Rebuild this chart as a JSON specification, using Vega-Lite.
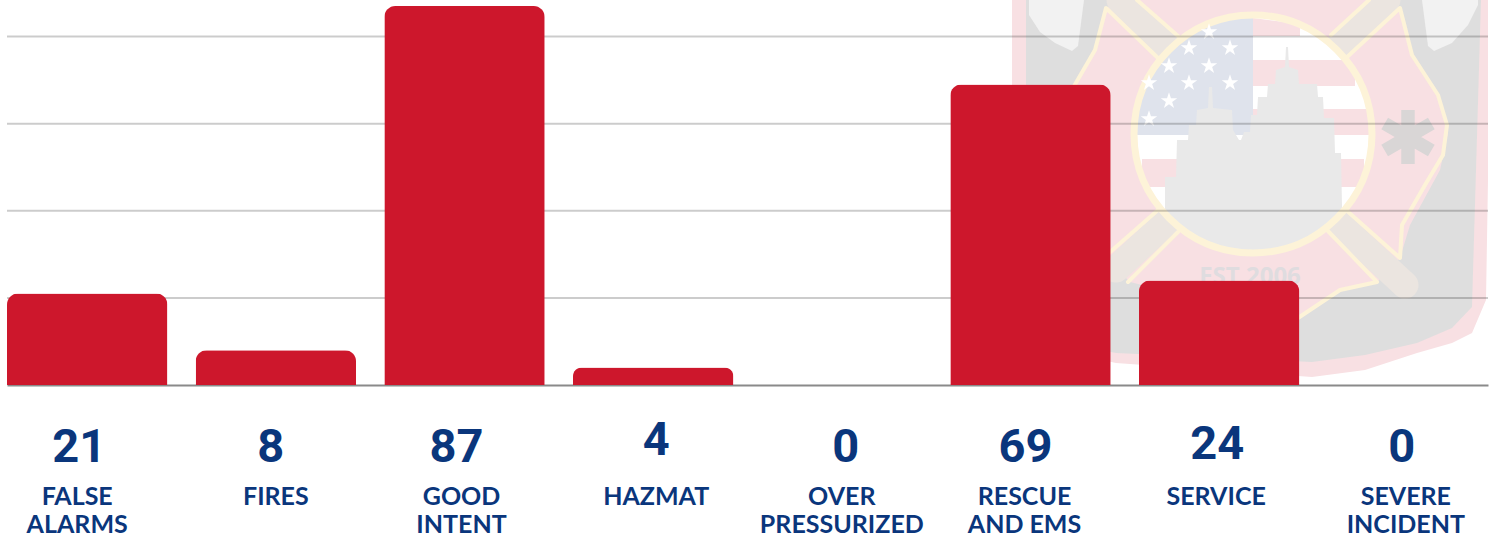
{
"$schema":"https://vega.github.io/schema/vega-lite/v6.json",
"width":1481,"height":385,"autosize":"none","padding":{"left":7,"top":0,"right":7,"bottom":156},"background":"#ffffff",
"config":{"view":{"stroke":null}},
"datasets":{
"incidents":[
{"name":"FALSE ALARMS","count":21},{"name":"FIRES","count":8},{"name":"GOOD INTENT","count":87},{"name":"HAZMAT","count":4},
{"name":"OVER PRESSURIZED","count":0},{"name":"RESCUE AND EMS","count":69},{"name":"SERVICE","count":24},{"name":"SEVERE INCIDENT","count":0}],
"ticks":[{"tick":20},{"tick":40},{"tick":60},{"tick":80}],
"logoBack":[
{"shape":"a","part":"pink","x":1012,"y0":0,"y1":340},{"shape":"a","part":"pink","x":1116,"y0":0,"y1":363},{"shape":"a","part":"pink","x":1312,"y0":0,"y1":377},{"shape":"a","part":"pink","x":1365,"y0":0,"y1":370},{"shape":"a","part":"pink","x":1417,"y0":0,"y1":353},{"shape":"a","part":"pink","x":1452,"y0":0,"y1":343},{"shape":"a","part":"pink","x":1472,"y0":0,"y1":333},{"shape":"a","part":"pink","x":1486,"y0":0,"y1":300},{"shape":"a","part":"pink","x":1491,"y0":0,"y1":0},
{"shape":"b","part":"gray","x":1026,"y0":0,"y1":335},{"shape":"b","part":"gray","x":1116,"y0":0,"y1":353},{"shape":"b","part":"gray","x":1312,"y0":0,"y1":362},{"shape":"b","part":"gray","x":1365,"y0":0,"y1":355},{"shape":"b","part":"gray","x":1417,"y0":0,"y1":343},{"shape":"b","part":"gray","x":1452,"y0":0,"y1":328},{"shape":"b","part":"gray","x":1472,"y0":0,"y1":307},{"shape":"b","part":"gray","x":1481,"y0":0,"y1":0},
{"shape":"c","part":"horn","x":1029,"y0":0,"y1":15},{"shape":"c","part":"horn","x":1040,"y0":0,"y1":32},{"shape":"c","part":"horn","x":1055,"y0":0,"y1":43},{"shape":"c","part":"horn","x":1072,"y0":0,"y1":51},{"shape":"c","part":"horn","x":1078,"y0":0,"y1":46},{"shape":"c","part":"horn","x":1084,"y0":0,"y1":0},
{"shape":"d","part":"horn","x":1422,"y0":0,"y1":0},{"shape":"d","part":"horn","x":1428,"y0":0,"y1":46},{"shape":"d","part":"horn","x":1434,"y0":0,"y1":51},{"shape":"d","part":"horn","x":1452,"y0":0,"y1":43},{"shape":"d","part":"horn","x":1468,"y0":0,"y1":25},{"shape":"d","part":"horn","x":1478,"y0":0,"y1":5},
{"shape":"e","part":"pink","x":1058,"y0":133,"y1":133},{"shape":"e","part":"pink","x":1066,"y0":100,"y1":170},{"shape":"e","part":"pink","x":1095,"y0":50,"y1":215},{"shape":"e","part":"pink","x":1106,"y0":8,"y1":258},{"shape":"e","part":"pink","x":1130,"y0":0,"y1":282},{"shape":"e","part":"pink","x":1170,"y0":0,"y1":292},{"shape":"e","part":"pink","x":1210,"y0":0,"y1":318},{"shape":"e","part":"pink","x":1253,"y0":0,"y1":345},{"shape":"e","part":"pink","x":1298,"y0":0,"y1":318},{"shape":"e","part":"pink","x":1340,"y0":0,"y1":290},{"shape":"e","part":"pink","x":1377,"y0":0,"y1":282},{"shape":"e","part":"pink","x":1400,"y0":8,"y1":258},{"shape":"e","part":"pink","x":1410,"y0":50,"y1":225},{"shape":"e","part":"pink","x":1440,"y0":100,"y1":170},{"shape":"e","part":"pink","x":1448,"y0":133,"y1":133}
],
"logoHandles":[
{"seg":"h1","i":0,"x":1120,"y":0},{"seg":"h1","i":1,"x":1168,"y":47},
{"seg":"h2","i":0,"x":1387,"y":0},{"seg":"h2","i":1,"x":1338,"y":47},
{"seg":"h3","i":0,"x":1116,"y":269},{"seg":"h3","i":1,"x":1168,"y":221},
{"seg":"h4","i":0,"x":1336,"y":221},{"seg":"h4","i":1,"x":1405,"y":285}
],
"logoFront":[
{"shape":"f","part":"white","x":1134,"y0":134,"y1":134},{"shape":"f","part":"white","x":1138,"y0":103,"y1":165},{"shape":"f","part":"white","x":1148,"y0":78,"y1":190},{"shape":"f","part":"white","x":1163,"y0":56,"y1":212},{"shape":"f","part":"white","x":1183,"y0":38,"y1":230},{"shape":"f","part":"white","x":1208,"y0":24,"y1":244},{"shape":"f","part":"white","x":1233,"y0":17,"y1":251},{"shape":"f","part":"white","x":1253,"y0":15,"y1":253},{"shape":"f","part":"white","x":1273,"y0":17,"y1":251},{"shape":"f","part":"white","x":1298,"y0":24,"y1":244},{"shape":"f","part":"white","x":1323,"y0":38,"y1":230},{"shape":"f","part":"white","x":1343,"y0":56,"y1":212},{"shape":"f","part":"white","x":1358,"y0":78,"y1":190},{"shape":"f","part":"white","x":1368,"y0":103,"y1":165},{"shape":"f","part":"white","x":1372,"y0":134,"y1":134},
{"shape":"s1","part":"stripe","x":1253,"y0":18,"y1":36},{"shape":"s1","part":"stripe","x":1300,"y0":24,"y1":36},
{"shape":"s2","part":"stripe","x":1253,"y0":60,"y1":86},{"shape":"s2","part":"stripe","x":1355,"y0":60,"y1":86},
{"shape":"s3","part":"stripe","x":1253,"y0":109,"y1":135},{"shape":"s3","part":"stripe","x":1371,"y0":109,"y1":135},
{"shape":"s4","part":"stripe","x":1142,"y0":159,"y1":187},{"shape":"s4","part":"stripe","x":1364,"y0":159,"y1":187},
{"shape":"s5","part":"stripe","x":1180,"y0":210,"y1":228},{"shape":"s5","part":"stripe","x":1326,"y0":210,"y1":228},
{"shape":"k","part":"canton","x":1136,"y0":118,"y1":135},{"shape":"k","part":"canton","x":1148,"y0":78,"y1":135},{"shape":"k","part":"canton","x":1163,"y0":56,"y1":135},{"shape":"k","part":"canton","x":1183,"y0":38,"y1":135},{"shape":"k","part":"canton","x":1208,"y0":24,"y1":135},{"shape":"k","part":"canton","x":1233,"y0":19,"y1":135},{"shape":"k","part":"canton","x":1253,"y0":17,"y1":135},
{"shape":"t","part":"tower","x":1165,"y0":177,"y1":214},{"shape":"t","part":"tower","x":1176,"y0":177,"y1":225},{"shape":"t","part":"tower","x":1177,"y0":140,"y1":226},{"shape":"t","part":"tower","x":1188,"y0":140,"y1":235},{"shape":"t","part":"tower","x":1189,"y0":125,"y1":235},{"shape":"t","part":"tower","x":1196,"y0":125,"y1":240},{"shape":"t","part":"tower","x":1197,"y0":110,"y1":240},{"shape":"t","part":"tower","x":1208,"y0":108,"y1":246},{"shape":"t","part":"tower","x":1209,"y0":87,"y1":246},{"shape":"t","part":"tower","x":1212,"y0":87,"y1":247},{"shape":"t","part":"tower","x":1213,"y0":108,"y1":247},{"shape":"t","part":"tower","x":1232,"y0":110,"y1":251},{"shape":"t","part":"tower","x":1233,"y0":130,"y1":251},{"shape":"t","part":"tower","x":1239,"y0":140,"y1":252},{"shape":"t","part":"tower","x":1241,"y0":140,"y1":252},{"shape":"t","part":"tower","x":1244,"y0":132,"y1":252},{"shape":"t","part":"tower","x":1250,"y0":132,"y1":253},{"shape":"t","part":"tower","x":1251,"y0":115,"y1":253},{"shape":"t","part":"tower","x":1257,"y0":115,"y1":253},{"shape":"t","part":"tower","x":1258,"y0":97,"y1":253},{"shape":"t","part":"tower","x":1267,"y0":97,"y1":252},{"shape":"t","part":"tower","x":1268,"y0":84,"y1":252},{"shape":"t","part":"tower","x":1275,"y0":84,"y1":250},{"shape":"t","part":"tower","x":1276,"y0":70,"y1":250},{"shape":"t","part":"tower","x":1285,"y0":67,"y1":247},{"shape":"t","part":"tower","x":1286,"y0":47,"y1":247},{"shape":"t","part":"tower","x":1288,"y0":47,"y1":246},{"shape":"t","part":"tower","x":1289,"y0":67,"y1":246},{"shape":"t","part":"tower","x":1298,"y0":70,"y1":244},{"shape":"t","part":"tower","x":1299,"y0":84,"y1":244},{"shape":"t","part":"tower","x":1317,"y0":84,"y1":233},{"shape":"t","part":"tower","x":1318,"y0":97,"y1":233},{"shape":"t","part":"tower","x":1323,"y0":97,"y1":230},{"shape":"t","part":"tower","x":1324,"y0":118,"y1":229},{"shape":"t","part":"tower","x":1334,"y0":118,"y1":222},{"shape":"t","part":"tower","x":1335,"y0":153,"y1":222},{"shape":"t","part":"tower","x":1341,"y0":153,"y1":216},{"shape":"t","part":"tower","x":1342,"y0":207,"y1":214}
],
"ring":[
{"i":0,"x":1372,"y":134},{"i":1,"x":1363,"y":180},{"i":2,"x":1337,"y":218},{"i":3,"x":1299,"y":244},{"i":4,"x":1253,"y":253},{"i":5,"x":1207,"y":244},{"i":6,"x":1169,"y":218},{"i":7,"x":1143,"y":180},{"i":8,"x":1134,"y":134},{"i":9,"x":1143,"y":88},{"i":10,"x":1169,"y":50},{"i":11,"x":1207,"y":24},{"i":12,"x":1253,"y":15},{"i":13,"x":1299,"y":24},{"i":14,"x":1337,"y":50},{"i":15,"x":1363,"y":88}
],
"logoLines":[
{"seg":"l1","i":0,"x":1158,"y":58},{"seg":"l1","i":1,"x":1106,"y":8},{"seg":"l1","i":2,"x":1095,"y":50},{"seg":"l1","i":3,"x":1066,"y":100},
{"seg":"l2","i":0,"x":1137,"y":0},{"seg":"l2","i":1,"x":1178,"y":36},
{"seg":"l3","i":0,"x":1158,"y":210},{"seg":"l3","i":1,"x":1109,"y":253},
{"seg":"l4","i":0,"x":1178,"y":232},{"seg":"l4","i":1,"x":1128,"y":282},
{"seg":"l5","i":0,"x":1327,"y":230},{"seg":"l5","i":1,"x":1377,"y":282},{"seg":"l5","i":2,"x":1340,"y":290},{"seg":"l5","i":3,"x":1298,"y":318},
{"seg":"l6","i":0,"x":1346,"y":210},{"seg":"l6","i":1,"x":1400,"y":258},{"seg":"l6","i":2,"x":1402,"y":225},{"seg":"l6","i":3,"x":1425,"y":185},{"seg":"l6","i":4,"x":1443,"y":155},{"seg":"l6","i":5,"x":1447,"y":125},{"seg":"l6","i":6,"x":1438,"y":95},{"seg":"l6","i":7,"x":1412,"y":55},{"seg":"l6","i":8,"x":1400,"y":8},{"seg":"l6","i":9,"x":1346,"y":58},
{"seg":"l7","i":0,"x":1331,"y":35},{"seg":"l7","i":1,"x":1369,"y":0}
],
"stars":[
{"x":1209,"y":32},{"x":1189,"y":48},{"x":1230,"y":48},{"x":1169,"y":66},{"x":1209,"y":66},{"x":1189,"y":83},{"x":1230,"y":83},{"x":1149,"y":83},{"x":1169,"y":101},{"x":1149,"y":119}
],
"emblem":[{"x":1408,"y":137}],
"motto":[{"x":1250,"y":277,"t":"EST 2006"}]
},
"resolve":{"scale":{"x":"independent","y":"independent"}},
"layer":[
{"encoding":{"x":{"field":"x","type":"quantitative","scale":{"domain":[7,1488],"nice":false,"zero":false},"axis":null},"y":{"field":"y","type":"quantitative","scale":{"domain":[385,0],"nice":false,"zero":false},"axis":null}},
"layer":[
{"data":{"name":"logoBack"},"mark":{"type":"area","clip":true},"encoding":{"y":{"field":"y0","type":"quantitative"},"y2":{"field":"y1"},"detail":{"field":"shape"},"fill":{"field":"part","type":"nominal","legend":null,"scale":{"domain":["pink","gray","horn","white","stripe","canton","tower"],"range":["#f8e0e3","#dedede","#f2f2f2","#ffffff","#f8e0e3","#dfe3ec","#e9e9e9"]}}}},
{"data":{"name":"logoHandles"},"mark":{"type":"line","stroke":"#ebe5e0","strokeWidth":27,"strokeCap":"round","clip":true},"encoding":{"detail":{"field":"seg"},"order":{"field":"i"}}},
{"data":{"name":"logoFront"},"mark":{"type":"area","clip":true},"encoding":{"y":{"field":"y0","type":"quantitative"},"y2":{"field":"y1"},"detail":{"field":"shape"},"fill":{"field":"part","type":"nominal","legend":null,"scale":{"domain":["pink","gray","horn","white","stripe","canton","tower"],"range":["#f8e0e3","#dedede","#f2f2f2","#ffffff","#f8e0e3","#dfe3ec","#e9e9e9"]}}}},
{"data":{"name":"ring"},"mark":{"type":"line","stroke":"#fdf3d8","strokeWidth":7,"interpolate":"cardinal-closed"},"encoding":{"order":{"field":"i"}}},
{"data":{"name":"logoLines"},"mark":{"type":"line","stroke":"#fdf3d8","strokeWidth":4,"strokeJoin":"round","strokeCap":"round","clip":true},"encoding":{"detail":{"field":"seg"},"order":{"field":"i"}}},
{"data":{"name":"stars"},"mark":{"type":"point","filled":true,"fill":"#ffffff","opacity":1,"size":300,"shape":"M0,-1L0.224,-0.309L0.951,-0.309L0.363,0.118L0.588,0.809L0,0.382L-0.588,0.809L-0.363,0.118L-0.951,-0.309L-0.224,-0.309Z"}},
{"data":{"name":"emblem"},"mark":{"type":"point","filled":true,"fill":"#d9d6d6","opacity":1,"size":2900,"shape":"M-0.25,-1L0.25,-1L0.25,1L-0.25,1ZM0.741,-0.7165L0.991,-0.2835L-0.741,0.7165L-0.991,0.2835ZM0.991,0.2835L0.741,0.7165L-0.991,-0.2835L-0.741,-0.7165Z"}},
{"data":{"name":"motto"},"mark":{"type":"text","font":"Open Sans","fontWeight":700,"fontSize":24,"fill":"#dfdcdf"},"encoding":{"text":{"field":"t"}}}
]},
{"data":{"name":"incidents"},
"encoding":{"x":{"field":"name","type":"nominal","sort":null,"scale":{"paddingInner":0.15,"paddingOuter":0},"axis":{"title":null,"ticks":false,"domainColor":"#8a8a8a","domainWidth":2,"labelAngle":0,"labelFont":"Lato","labelFontWeight":700,"labelFontSize":25,"labelColor":"#0a367c","labelPadding":119,"labelLineHeight":28,"labelBaseline":"alphabetic","labelAlign":"center","labelLimit":300,"labelOverlap":false,"labelBound":false,"labelFlush":false,
"labelExpr":"datum.label=='RESCUE AND EMS'?['RESCUE','AND EMS']:split(datum.label,' ')",
"labelOffset":{"condition":[{"test":"datum.value=='FALSE ALARMS'","value":-10},{"test":"datum.value=='GOOD INTENT'","value":-3},{"test":"datum.value=='HAZMAT'","value":3},{"test":"datum.value=='RESCUE AND EMS'","value":-6},{"test":"datum.value=='SERVICE'","value":-3},{"test":"datum.value=='SEVERE INCIDENT'","value":-2}],"value":0}}},
"y":{"type":"quantitative","scale":{"domain":[0,88.4],"nice":false},"axis":null}},
"layer":[
{"data":{"name":"ticks"},"mark":{"type":"rule","stroke":"#000000","strokeOpacity":0.2,"strokeWidth":2},"encoding":{"x":{"value":0},"x2":{"value":1481},"y":{"field":"tick","type":"quantitative"}}},
{"mark":{"type":"bar","fill":"#cd172c","cornerRadiusTopLeft":11,"cornerRadiusTopRight":11},"encoding":{"y":{"field":"count","type":"quantitative"}}},
{"mark":{"type":"text","font":"Roboto","fontWeight":700,"fontSize":47,"fill":"#0a367c","baseline":"alphabetic",
"dx":{"expr":"({'FALSE ALARMS':-8,'FIRES':-5,'GOOD INTENT':-8,'HAZMAT':3,'OVER PRESSURIZED':4,'RESCUE AND EMS':-5,'SERVICE':-2,'SEVERE INCIDENT':-6})[datum.name]"},
"dy":{"expr":"datum.name=='HAZMAT'?70:datum.name=='SERVICE'?74:77"}},
"encoding":{"y":{"datum":0},"text":{"field":"count","type":"quantitative"}}}
]}
]
}
